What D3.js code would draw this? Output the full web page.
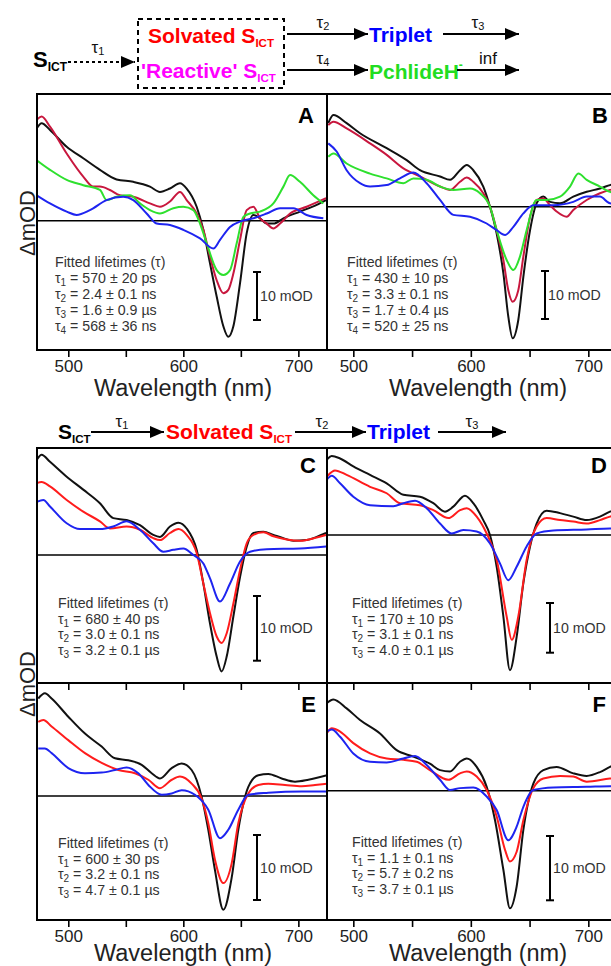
<!DOCTYPE html>
<html>
<head>
<meta charset="utf-8">
<script src="https://cdn.jsdelivr.net/npm/d3@7"></script>
<style>
  body { margin: 0; background: #fff; }
  svg { display: block; font-family: "Liberation Sans", Arial, sans-serif; }
</style>
</head>
<body>
<div id="fig"></div>
<script>
// ---- data: [wavelength (nm), dOD (mOD)] ----
const aBlack = [[472.5,19.2],[476.8,20.3],[484.1,18.9],[498.6,15.4],[513,13],[527.5,10.6],[542,8.6],[556.5,8.1],[571,7.1],[579.7,6.0],[588.4,6.7],[597.1,7.8],[602.9,6.7],[611.6,2.9],[617.4,-1.9],[623.2,-8.9],[629,-15.8],[634.8,-22],[639.1,-24.2],[643.5,-22],[649.3,-13],[655.1,-2.6],[660.9,1.2],[666.7,0.5],[672.5,-0.6],[678.3,-0.6],[687,0.5],[701.4,1.9],[715.9,3.3],[724.1,4.3]];
const aRed = [[472.5,21],[476.8,21.7],[484.1,19.6],[498.6,14],[513,9.2],[521.7,7.1],[527.5,7.1],[536.2,6.4],[544.9,5.3],[556.5,5],[571,3.6],[579.7,2.9],[588.4,4.0],[597.1,6.0],[602.9,4.3],[611.6,1.5],[617.4,-1.9],[623.2,-7.5],[629,-12.4],[634.8,-15.1],[639.1,-14.4],[643.5,-11],[649.3,-4],[655.1,2.2],[660.9,2.9],[666.7,0.5],[672.5,-0.6],[678.3,-1.6],[684.1,-0.6],[692.8,1.5],[707.2,2.9],[724.1,4.7]];
const aGreen = [[472.5,12.6],[484.1,10.6],[498.6,8.5],[513,7.4],[527.5,6.4],[533.3,4.3],[542,5],[553.6,5.3],[562.3,3.6],[571,2.2],[579.7,1.5],[591.3,2.6],[600,2.9],[608.7,2.2],[614.5,-0.6],[620.3,-4.7],[629,-10.3],[634.8,-11.3],[640.6,-10.3],[646.4,-4.7],[652.2,0.8],[658,1.5],[666.7,1.9],[678.3,3.6],[687,7.1],[692.8,9.5],[701.4,8.1],[713,5.3],[721.7,3.6]];
const aBlue = [[472.5,5.3],[484.1,3.6],[498.6,1.9],[507.2,1.2],[518.8,2.2],[533.3,4.3],[547.8,5],[556.5,4.3],[568.1,1.5],[576.8,-0.6],[588.4,-0.9],[600,-1.9],[614.5,-3.7],[626.1,-5.8],[631.9,-4],[640.6,-1.3],[649.3,-0.2],[660.9,0.5],[672.5,1.5],[684.1,2.6],[695.7,2.6],[707.2,1.2],[721.7,0.5]];

const bBlack = [[478.7,17.4],[483,19.1],[494.3,17.4],[505.7,15.3],[528.4,12.2],[545.4,9.7],[556.7,7.6],[573.8,6.3],[582.3,5.6],[590.8,7.6],[596.5,8.7],[602.1,7.6],[610.6,4.2],[616.3,0],[622,-5.6],[627.7,-13.9],[631.9,-22.9],[635.6,-27.4],[640.4,-23.6],[644.7,-14.6],[650.4,-4.9],[656,0.7],[661.7,2.1],[667.4,1],[675.9,0.7],[687.2,2.1],[698.6,3.1],[709.9,3.8],[718.4,4.5],[725,5]];
const bRed = [[478.7,17],[483,17.7],[494.3,16.3],[514.2,13.2],[528.4,10.8],[542.6,8],[556.7,6.3],[573.8,4.2],[582.3,3.5],[590.8,5.2],[596.5,6.1],[602.1,5.2],[610.6,2.8],[616.3,0],[622,-4.9],[627.7,-11.1],[631.9,-17.4],[635.6,-19.8],[640.4,-17.4],[644.7,-10.4],[650.4,-2.1],[656,1.4],[661.7,1.7],[667.4,0.3],[673,-1],[681.6,-2.1],[687.2,-0.7],[698.6,1.4],[709.9,2.8],[718.4,3.5],[725,3.8]];
const bGreen = [[478.7,10.4],[483,11.1],[494.3,9],[514.2,6.9],[528.4,5.9],[542.6,4.9],[551.1,5.9],[562.4,5.6],[573.8,4.2],[585.1,3.5],[599.3,3.8],[607.8,2.8],[616.3,0],[622,-4.9],[630.5,-11.1],[636.2,-13.2],[641.8,-10.4],[647.5,-4.9],[656,1.4],[664.5,1.4],[675.9,2.1],[684.4,4.2],[691.5,6.9],[698.6,5.6],[709.9,4.2],[718.4,3.1],[725,2.8]];
const bBlue = [[478.7,13.2],[485.8,11.5],[494.3,7.6],[505.7,4.9],[514.2,4.2],[528.4,4.5],[539.7,5.9],[551.1,7.1],[562.4,4.9],[573.8,1.4],[585.1,-1.7],[599.3,-2.1],[613.5,-3.5],[622,-4.9],[629.1,-5.9],[636.2,-4.2],[644.7,-1.4],[653.2,0.3],[670.2,0.3],[687.2,1],[698.6,2.1],[709.9,2.1],[718.4,0.7],[725,0.6]];

const cBlack = [[472.5,14.7],[476.8,15.5],[484.1,14.4],[498.6,12.1],[513,10.1],[527.5,8],[539.1,5.7],[550.7,5.4],[562.3,4.6],[573.9,3.1],[579.7,2.8],[588.4,4.4],[595.7,5],[602.9,4.1],[611.6,0.8],[617.4,-4.4],[623.2,-10.6],[629,-15.7],[633.3,-18],[637.7,-15.7],[643.5,-9.5],[649.3,-3.4],[655.1,1.3],[660.9,3.4],[669.6,3.6],[678.3,3.1],[687,2.6],[695.7,2.2],[707.2,2.3],[715.9,2.8],[724.1,3.4]];
const cRed = [[472.5,11.1],[476.8,11.3],[484.1,10.6],[498.6,8.5],[513,6.7],[527.5,5.2],[536.2,4.1],[550.7,4.4],[562.3,3.9],[573.9,2.6],[579.7,2.3],[588.4,3.4],[595.7,4],[602.9,3.1],[611.6,0.3],[617.4,-4.4],[623.2,-9],[629,-12.6],[633.3,-13.6],[637.7,-12.1],[643.5,-7.5],[649.3,-2.3],[655.1,1.8],[660.9,3.1],[669.6,3.5],[678.3,2.9],[689.9,2.4],[701.4,2.2],[715.9,2.7],[724.1,3.1]];
const cBlue = [[472.5,8.2],[478.3,8.5],[484.1,7.5],[498.6,4.9],[510.1,4],[527.5,4],[539.1,4.4],[550.7,5.2],[562.3,3.9],[573.9,1.8],[582.6,0.5],[591.3,0.8],[600,1.0],[608.7,0],[617.4,-1.3],[623.2,-3.6],[631.9,-7.2],[640.6,-4.4],[649.3,-1],[658,0.5],[672.5,0.9],[701.4,1.0],[724.1,1.3]];

const dBlack = [[477.3,15.1],[481.6,15.9],[488.7,15.4],[500,13.8],[514.2,12.1],[528.4,10.4],[542.6,8.1],[556.7,7.7],[568.1,6.4],[578,4.7],[585.1,5.7],[595,7.9],[602.1,6.4],[610.6,3],[616.3,0],[622,-6.4],[627.7,-16.4],[633.3,-27.2],[639,-20.5],[644.7,-9.7],[650.4,-2.3],[656,2.3],[664.5,4.9],[675.9,4.4],[687.2,3.7],[698.6,3.0],[709.9,3.7],[718.4,4.7],[725,5.2]];
const dRed = [[477.3,11.7],[484.4,13],[494.3,12.1],[514.2,9.7],[528.4,8.4],[539.7,6.4],[556.7,6],[568.1,5],[580.9,3.4],[590.8,5],[596.5,5.4],[605,3.7],[613.5,0.3],[622,-5],[630.5,-16.4],[634.8,-21.1],[640.4,-16.4],[647.5,-5],[656,1.7],[664.5,3.4],[675.9,3.0],[687.2,2.7],[698.6,2.3],[709.9,3.0],[718.4,3.7],[725,4]];
const dBlue = [[477.3,11.1],[481.6,11.9],[488.7,10.4],[500,7.7],[514.2,6],[534,5.8],[542.6,6.4],[552.5,6.9],[562.4,5.4],[573.8,2.3],[583.7,0.3],[593.6,1.0],[605,0.7],[616.3,-1.7],[624.8,-5.7],[631.9,-9.1],[639,-6.4],[647.5,-2.3],[656,0.3],[670.2,0.9],[698.6,1.1],[718.4,1.3],[725,1.3]];

const eBlack = [[473.9,15],[479.7,15.8],[485.5,15],[500,12.2],[514.5,9.6],[529,7.6],[540.6,5.8],[552.2,5.5],[563.8,4.8],[572.5,3.5],[579.7,2.7],[589.9,4.3],[598.6,5],[607.2,4],[615.9,-0.1],[621.7,-5.2],[627.5,-11.4],[634.8,-17.5],[642,-12.6],[647.8,-5.2],[656.5,1.4],[665.2,3.2],[673.9,3.4],[685.5,2.7],[697.1,2.2],[708.7,2.5],[725,3.2]];
const eRed = [[473.9,11.4],[478.3,11.7],[485.5,10.7],[500,8.6],[514.5,6.6],[529,5.1],[543.5,4],[558,3.5],[569.6,2.5],[579.7,1.2],[589.9,2.5],[597.1,3],[607.2,1.9],[615.9,-0.4],[621.7,-4.2],[627.5,-9.8],[634.8,-13.4],[642,-10.4],[647.8,-4.2],[656.5,0.4],[665.2,1.7],[673.9,1.9],[688.4,1.7],[702.9,1.5],[714.5,1.7],[725,1.9]];
const eBlue = [[473.9,7.3],[479.7,7.3],[485.5,6.6],[500,4.3],[514.5,3.5],[529,3.6],[540.6,4],[550.7,4.4],[560.9,3.5],[569.6,1.7],[581.2,0.2],[589.9,0.4],[598.6,0.9],[610.1,0.2],[621.7,-2.1],[631.9,-6.5],[639.1,-5.2],[647.8,-2.1],[656.5,0.2],[673.9,0.5],[702.9,0.7],[725,0.7]];

const fBlack = [[477.3,13.6],[483,14.2],[494.3,12.8],[505.7,11],[522.7,8.9],[536.9,6.3],[551.1,5.3],[565.2,4.2],[573.8,3.2],[582.3,3],[590.8,4.5],[596.5,5],[605,3.7],[613.5,0.6],[620.6,-4.6],[627.7,-12.3],[633.3,-18.3],[639,-14.9],[644.7,-6.1],[653.2,1.1],[661.7,3.2],[673,3.7],[687.2,2.7],[698.6,2.3],[709.9,2.9],[718.4,3.7],[725,4.2]];
const fRed = [[477.3,8.9],[481.6,9.7],[488.7,9.2],[500,7.4],[514.2,5.8],[528.4,5],[542.6,4.8],[553.9,4.5],[565.2,3.2],[580.9,1.7],[590.8,2.7],[596.5,3],[605,2.2],[613.5,0.1],[622,-4],[629.1,-9.2],[633.3,-11],[639,-9.5],[644.7,-4.6],[653.2,0.4],[661.7,1.9],[675.9,2.3],[687.2,2.2],[698.6,1.4],[718.4,1.9],[725,2]];
const fBlue = [[477.3,9.2],[481.6,9.5],[488.7,8.4],[500,5.8],[514.2,4.5],[528.4,4.4],[542.6,5],[552.5,5.4],[562.4,4],[573.8,1.7],[582.3,0.1],[590.8,0.4],[602.1,0.5],[613.5,-0.9],[622,-3],[631.9,-7.7],[639,-5.6],[644.7,-2.5],[653.2,0.1],[670.2,0.5],[698.6,0.6],[718.4,0.7],[725,0.7]];

// fitted lifetimes per panel
const lifeA = ["570 \u00b1 20 ps", "2.4 \u00b1 0.1 ns", "1.6 \u00b1 0.9 \u00b5s", "568 \u00b1 36 ns"];
const lifeB = ["430 \u00b1 10 ps", "3.3 \u00b1 0.1 ns", "1.7 \u00b1 0.4 \u00b5s", "520 \u00b1 25 ns"];
const lifeC = ["680 \u00b1 40 ps", "3.0 \u00b1 0.1 ns", "3.2 \u00b1 0.1 \u00b5s"];
const lifeD = ["170 \u00b1 10 ps", "3.1 \u00b1 0.1 ns", "4.0 \u00b1 0.1 \u00b5s"];
const lifeE = ["600 \u00b1 30 ps", "3.2 \u00b1 0.1 ns", "4.7 \u00b1 0.1 \u00b5s"];
const lifeF = ["1.1 \u00b1 0.1 ns", "5.7 \u00b1 0.2 ns", "3.7 \u00b1 0.1 \u00b5s"];

const xTicks = [500, 550, 600, 650, 700];
const xLabels = [500, 600, 700];

const colBlack = "#111", colCrimson = "#c8173e", colGreen = "#2ee02e", colBlue = "#1e24f0", colRed = "#ff1c1c";

const W = 611, H = 966;
const svg = d3.select("#fig").append("svg")
    .attr("width", W).attr("height", H)
    .attr("viewBox", `0 0 ${W} ${H}`);

svg.append("rect").attr("width", W).attr("height", H).attr("fill", "#fff");

const defs = svg.append("defs");
defs.append("marker")
    .attr("id", "head")
    .attr("markerUnits", "userSpaceOnUse")
    .attr("viewBox", "0 0 14 12")
    .attr("refX", 14).attr("refY", 6)
    .attr("markerWidth", 14).attr("markerHeight", 12)
    .attr("orient", "auto")
  .append("path")
    .attr("d", "M0,0 L14,6 L0,12 Z")
    .attr("fill", "#000");

// panel layout (left column: 1.15 px/nm, right column: 1.175 px/nm)
const leftX = { x0: 37, x1: 327, wl0: 472.8, wl1: 724.9 };
const rightX = { x0: 327, x1: 617.7, wl0: 477.6, wl1: 725 };

const panels = [
  { id: "A", col: leftX, top: 94, bottom: 350, zero: 220.7, k: 4.8,
    series: [[aBlack, colBlack], [aRed, colCrimson], [aGreen, colGreen], [aBlue, colBlue]],
    life: lifeA, textX: 55, textY: 267, lineH: 16, barX: 257, barTop: 272, labelsX: true, letterX: 314, letterY: 123 },
  { id: "B", col: rightX, top: 94, bottom: 350, zero: 206.7, k: 4.8,
    series: [[bBlack, colBlack], [bRed, colCrimson], [bGreen, colGreen], [bBlue, colBlue]],
    life: lifeB, textX: 347, textY: 267, lineH: 16, barX: 545, barTop: 271, labelsX: true, letterX: 608, letterY: 123 },
  { id: "C", col: leftX, top: 448, bottom: 683, zero: 555, k: 6.47,
    series: [[cBlack, colBlack], [cRed, colRed], [cBlue, colBlue]],
    life: lifeC, textX: 58, textY: 608, lineH: 15.6, barX: 257, barTop: 596, labelsX: false, letterX: 316, letterY: 473 },
  { id: "D", col: rightX, top: 448, bottom: 683, zero: 535, k: 4.97,
    series: [[dBlack, colBlack], [dRed, colRed], [dBlue, colBlue]],
    life: lifeD, textX: 352, textY: 608, lineH: 15.6, barX: 550, barTop: 603, labelsX: false, letterX: 607, letterY: 473 },
  { id: "E", col: leftX, top: 683, bottom: 920, zero: 796, k: 6.5,
    series: [[eBlack, colBlack], [eRed, colRed], [eBlue, colBlue]],
    life: lifeE, textX: 58, textY: 848, lineH: 15.5, barX: 257, barTop: 835, labelsX: true, letterX: 316, letterY: 712 },
  { id: "F", col: rightX, top: 683, bottom: 920, zero: 790.7, k: 6.43,
    series: [[fBlack, colBlack], [fRed, colRed], [fBlue, colBlue]],
    life: lifeF, textX: 352, textY: 847, lineH: 15.5, barX: 550, barTop: 836, labelsX: true, letterX: 606, letterY: 712 }
];

panels.forEach(p => {
  const x = d3.scaleLinear().domain([p.col.wl0, p.col.wl1]).range([p.col.x0, p.col.x1]);
  const y = d3.scaleLinear()
      .domain([(p.zero - p.bottom) / p.k, (p.zero - p.top) / p.k])
      .range([p.bottom, p.top]);

  const g = svg.append("g");
  const clipId = "clip" + p.id;
  defs.append("clipPath").attr("id", clipId)
    .append("rect")
      .attr("x", p.col.x0).attr("y", p.top)
      .attr("width", p.col.x1 - p.col.x0).attr("height", p.bottom - p.top);

  // zero line
  g.append("line")
      .attr("x1", p.col.x0).attr("x2", p.col.x1)
      .attr("y1", y(0)).attr("y2", y(0))
      .attr("stroke", "#000").attr("stroke-width", 1.6);

  const line = d3.line()
      .x(d => x(d[0]))
      .y(d => y(d[1]))
      .curve(d3.curveMonotoneX);

  g.append("g").attr("clip-path", `url(#${clipId})`)
    .selectAll("path")
    .data(p.series)
    .join("path")
      .attr("d", d => line(d[0]))
      .attr("fill", "none")
      .attr("stroke", d => d[1])
      .attr("stroke-width", 2)
      .attr("stroke-linejoin", "round");

  // frame
  g.append("rect")
      .attr("x", p.col.x0).attr("y", p.top)
      .attr("width", p.col.x1 - p.col.x0).attr("height", p.bottom - p.top)
      .attr("fill", "none").attr("stroke", "#000").attr("stroke-width", 2);

  // bottom axis, ticks outward
  const ax = g.append("g")
      .attr("transform", `translate(0,${p.bottom})`)
      .call(d3.axisBottom(x).tickValues(xTicks).tickSizeInner(7).tickSizeOuter(0).tickPadding(3)
        .tickFormat(v => (p.labelsX && xLabels.includes(v)) ? v : ""));
  ax.select(".domain").remove();
  ax.selectAll("line").attr("stroke", "#000").attr("stroke-width", 1.6);
  ax.selectAll("text").attr("font-size", 17).attr("fill", "#222").attr("font-family", "Liberation Sans, Arial, sans-serif");

  // panel letter
  g.append("text")
      .attr("x", p.letterX).attr("y", p.letterY)
      .attr("text-anchor", "end")
      .attr("font-size", 22).attr("font-weight", "bold")
      .text(p.id);

  // fitted lifetimes
  const t = g.append("g").attr("fill", "#333").attr("font-size", 14.2);
  t.append("text").attr("x", p.textX).attr("y", p.textY).text("Fitted lifetimes (\u03c4)");
  p.life.forEach((s, i) => {
    const tx = t.append("text").attr("x", p.textX).attr("y", p.textY + p.lineH * (i + 1));
    tx.append("tspan").text("\u03c4");
    tx.append("tspan").attr("font-size", 10).attr("dy", 3).text(i + 1);
    tx.append("tspan").attr("dy", -3).text(" = " + s);
  });

  // 10 mOD scale bar
  const len = y(0) - y(10);
  const sb = g.append("g").attr("stroke", "#000").attr("stroke-width", 2);
  sb.append("line").attr("x1", p.barX).attr("x2", p.barX).attr("y1", p.barTop).attr("y2", p.barTop + len);
  sb.append("line").attr("x1", p.barX - 4).attr("x2", p.barX + 4).attr("y1", p.barTop).attr("y2", p.barTop);
  sb.append("line").attr("x1", p.barX - 4).attr("x2", p.barX + 4).attr("y1", p.barTop + len).attr("y2", p.barTop + len);
  g.append("text")
      .attr("x", p.barX + 3).attr("y", p.barTop + len / 2 + 5)
      .attr("font-size", 14.2).attr("fill", "#333")
      .text("10 mOD");
});

// axis titles
[[183, 396], [478, 396], [183, 961], [478, 961]].forEach(([cx, by]) => {
  svg.append("text").attr("x", cx).attr("y", by)
      .attr("text-anchor", "middle").attr("font-size", 23.5).attr("fill", "#222")
      .text("Wavelength (nm)");
});
[[223], [684]].forEach(([cy]) => {
  svg.append("text")
      .attr("transform", `translate(35,${cy}) rotate(-90)`)
      .attr("text-anchor", "middle").attr("font-size", 22).attr("fill", "#222")
      .text("\u0394mOD");
});

// ---- kinetic schemes ----
function species(x, y, name, sub, color, size) {
  const t = svg.append("text").attr("x", x).attr("y", y)
      .attr("font-size", size).attr("font-weight", "bold").attr("fill", color);
  t.append("tspan").text(name);
  if (sub) t.append("tspan").attr("font-size", size * 0.55).attr("dy", 4).text(sub);
  return t;
}
function arrow(x1, x2, y, label, lx, ly, dashed) {
  svg.append("line")
      .attr("x1", x1).attr("x2", x2).attr("y1", y).attr("y2", y)
      .attr("stroke", "#000").attr("stroke-width", 2)
      .attr("stroke-dasharray", dashed ? "3,3" : null)
      .attr("marker-end", "url(#head)");
  const t = svg.append("text").attr("x", lx).attr("y", ly)
      .attr("text-anchor", "middle").attr("font-size", 17).attr("fill", "#111");
  if (label[0] === "\u03c4") {
    t.append("tspan").text("\u03c4");
    t.append("tspan").attr("font-size", 11).attr("dy", 2).text(label.slice(1));
  } else {
    t.text(label);
  }
}

// top scheme
species(33, 67, "S", "ICT", "#000", 22);
arrow(68, 135, 62, "\u03c41", 98, 53, true);
svg.append("rect")
    .attr("x", 138).attr("y", 19).attr("width", 146).attr("height", 69)
    .attr("fill", "none").attr("stroke", "#000").attr("stroke-width", 2)
    .attr("stroke-dasharray", "5,4");
species(148, 43, "Solvated S", "ICT", "#ff0000", 21);
species(141, 78, "'Reactive' S", "ICT", "#ff00ff", 21);
arrow(287, 368, 34, "\u03c42", 323, 28, false);
species(369, 42, "Triplet", null, "#0000ff", 21);
arrow(443, 519, 34, "\u03c43", 478, 28, false);
arrow(287, 368, 70, "\u03c44", 323, 64, false);
const pch = species(369, 79, "PchlideH", null, "#22dd22", 21);
pch.append("tspan").attr("font-size", 12).attr("dy", -10).text("-");
arrow(457, 519, 70, "inf", 488, 64, false);

// middle scheme
species(58, 439, "S", "ICT", "#000", 21);
arrow(91, 164, 432, "\u03c41", 122, 427, false);
species(166, 439, "Solvated S", "ICT", "#ff0000", 21);
arrow(295, 366, 432, "\u03c42", 322, 427, false);
species(367, 439, "Triplet", null, "#0000ff", 21);
arrow(438, 506, 432, "\u03c43", 472, 427, false);
</script>
</body>
</html>
